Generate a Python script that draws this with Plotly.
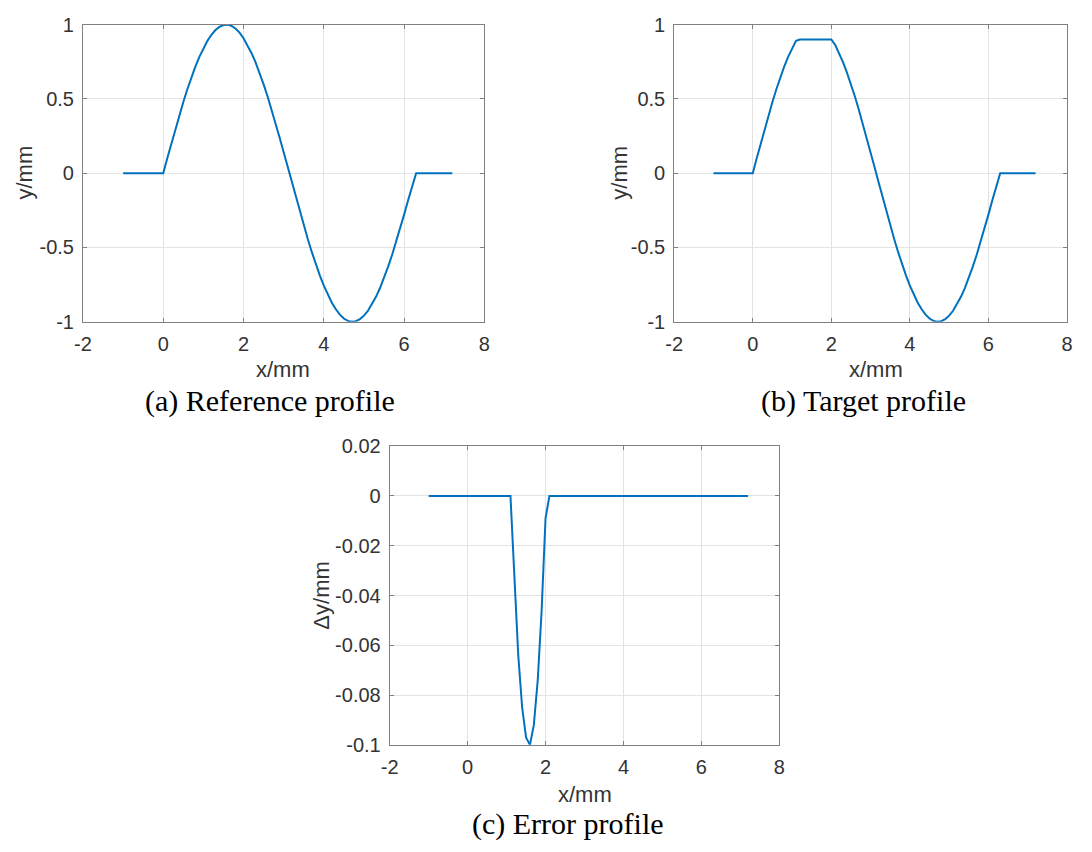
import plotly.graph_objects as go

# Sampled profile positions (mm)
x_profile = [-1.0, 0.0, 0.1, 0.2, 0.3, 0.4, 0.5, 0.6, 0.7, 0.8, 0.9,
             1.0, 1.1, 1.2, 1.3, 1.4, 1.5, 1.6, 1.7, 1.8, 1.9,
             2.0, 2.1, 2.2, 2.3, 2.4, 2.5, 2.6, 2.7, 2.8, 2.9,
             3.0, 3.1, 3.2, 3.3, 3.4, 3.5, 3.6, 3.7, 3.8, 3.9,
             4.0, 4.1, 4.2, 4.3, 4.4, 4.5, 4.6, 4.7, 4.8, 4.9,
             5.0, 5.1, 5.2, 5.3, 5.4, 5.5, 5.6, 5.7, 5.8, 5.9,
             6.0, 6.1, 6.2, 6.3, 7.2]

# (a) reference profile heights (mm)
y_reference = [0.0, 0.0, 0.100, 0.199, 0.296, 0.389, 0.479, 0.565, 0.644, 0.717, 0.783,
               0.841, 0.891, 0.932, 0.964, 0.985, 0.997, 1.000, 0.992, 0.974, 0.946,
               0.909, 0.863, 0.808, 0.746, 0.675, 0.598, 0.516, 0.427, 0.335, 0.239,
               0.141, 0.042, -0.058, -0.158, -0.256, -0.351, -0.443, -0.530, -0.612, -0.688,
               -0.757, -0.818, -0.872, -0.916, -0.952, -0.978, -0.994, -1.000, -0.996, -0.982,
               -0.959, -0.926, -0.883, -0.832, -0.773, -0.706, -0.631, -0.551, -0.465, -0.374,
               -0.279, -0.182, -0.083, 0.0, 0.0]

# (b) target profile heights (mm), crest limited to 0.9
y_target = [0.0, 0.0, 0.100, 0.199, 0.296, 0.389, 0.479, 0.565, 0.644, 0.717, 0.783,
            0.841, 0.891, 0.900, 0.900, 0.900, 0.900, 0.900, 0.900, 0.900, 0.900,
            0.900, 0.863, 0.808, 0.746, 0.675, 0.598, 0.516, 0.427, 0.335, 0.239,
            0.141, 0.042, -0.058, -0.158, -0.256, -0.351, -0.443, -0.530, -0.612, -0.688,
            -0.757, -0.818, -0.872, -0.916, -0.952, -0.978, -0.994, -1.000, -0.996, -0.982,
            -0.959, -0.926, -0.883, -0.832, -0.773, -0.706, -0.631, -0.551, -0.465, -0.374,
            -0.279, -0.182, -0.083, 0.0, 0.0]

# (c) error profile
x_error = [-1.0, 1.1, 1.2, 1.3, 1.4, 1.5, 1.6, 1.7, 1.8, 1.9, 2.0, 2.1, 7.2]
dy_error = [0.0, 0.0, -0.032, -0.064, -0.085, -0.097, -0.100, -0.092, -0.074, -0.046, -0.009, 0.0, 0.0]

# Tick values and labels
x_ticks = [-2, 0, 2, 4, 6, 8]
x_tick_labels = ["-2", "0", "2", "4", "6", "8"]
y_ticks = [-1, -0.5, 0, 0.5, 1]
y_tick_labels = ["-1", "-0.5", "0", "0.5", "1"]
dy_ticks = [-0.1, -0.08, -0.06, -0.04, -0.02, 0, 0.02]
dy_tick_labels = ["-0.1", "-0.08", "-0.06", "-0.04", "-0.02", "0", "0.02"]

captions = ["(a) Reference profile", "(b) Target profile", "(c) Error profile"]

W, H = 1092, 852
LINE = "#0072BD"
AXIS = "#808080"
GRID = "#e3e3e3"
TXT = "#333333"
SANS = "Liberation Sans, Arial, sans-serif"
SERIF = "Liberation Serif, Times New Roman, serif"


def px_x(p):
    return p / W


def px_y(p):
    return 1 - p / H


fig = go.Figure()
fig.add_trace(go.Scatter(x=x_profile, y=y_reference, mode="lines",
                         line=dict(color=LINE, width=2), xaxis="x", yaxis="y"))
fig.add_trace(go.Scatter(x=x_profile, y=y_target, mode="lines",
                         line=dict(color=LINE, width=2), xaxis="x2", yaxis="y2"))
fig.add_trace(go.Scatter(x=x_error, y=dy_error, mode="lines",
                         line=dict(color=LINE, width=2), xaxis="x3", yaxis="y3"))


def xax(domain, anchor):
    return dict(domain=domain, anchor=anchor, range=[-2, 8],
                tickvals=x_ticks, ticktext=x_tick_labels,
                showline=True, linecolor=AXIS, linewidth=1, mirror="ticks",
                ticks="inside", ticklen=4, tickcolor=AXIS, ticklabelstandoff=4,
                showgrid=True, gridcolor=GRID, gridwidth=1, zeroline=False,
                tickfont=dict(family=SANS, size=20, color=TXT))


def yax(domain, anchor, rng, vals, labels):
    return dict(domain=domain, anchor=anchor, range=rng,
                tickvals=vals, ticktext=labels,
                showline=True, linecolor=AXIS, linewidth=1, mirror="ticks",
                ticks="inside", ticklen=4, tickcolor=AXIS, ticklabelstandoff=4,
                showgrid=True, gridcolor=GRID, gridwidth=1, zeroline=False,
                tickfont=dict(family=SANS, size=20, color=TXT))


top_dom = [px_y(319), px_y(14)]
fig.update_layout(
    width=W, height=H,
    margin=dict(l=0, r=0, t=0, b=0),
    paper_bgcolor="white", plot_bgcolor="white",
    showlegend=False,
    xaxis=xax([px_x(75), px_x(482)], "y"),
    yaxis=yax(top_dom, "x", [-1, 1], y_ticks, y_tick_labels),
    xaxis2=xax([px_x(674.5), px_x(1072.7)], "y2"),
    yaxis2=yax(top_dom, "x2", [-1, 1], y_ticks, y_tick_labels),
    xaxis3=xax([px_x(386), px_x(781)], "y3"),
    yaxis3=yax([px_y(753.3), px_y(446.7)], "x3", [-0.1, 0.02], dy_ticks, dy_tick_labels),
)

annos = []
# axis titles
for cx, cy in [(278, 368), (879, 368), (584, 804)]:
    annos.append(dict(text="x/mm", x=px_x(cx), y=px_y(cy), xref="paper", yref="paper",
                      showarrow=False, xanchor="center", yanchor="middle",
                      font=dict(family=SANS, size=22, color=TXT)))
for txt, cx, cy in [("y/mm", 16, 166), ("y/mm", 619.5, 166), ("Δy/mm", 316.5, 600)]:
    annos.append(dict(text=txt, x=px_x(cx), y=px_y(cy), xref="paper", yref="paper",
                      showarrow=False, xanchor="center", yanchor="middle", textangle=-90,
                      font=dict(family=SANS, size=22, color=TXT)))
# captions
for txt, cx, cy in zip(captions, [265, 866.7, 566.5], [400, 400, 835]):
    annos.append(dict(text=txt, x=px_x(cx), y=px_y(cy), xref="paper", yref="paper",
                      showarrow=False, xanchor="center", yanchor="middle",
                      font=dict(family=SERIF, size=30, color="black")))
fig.update_layout(annotations=annos)

fig.write_html("out.html")
